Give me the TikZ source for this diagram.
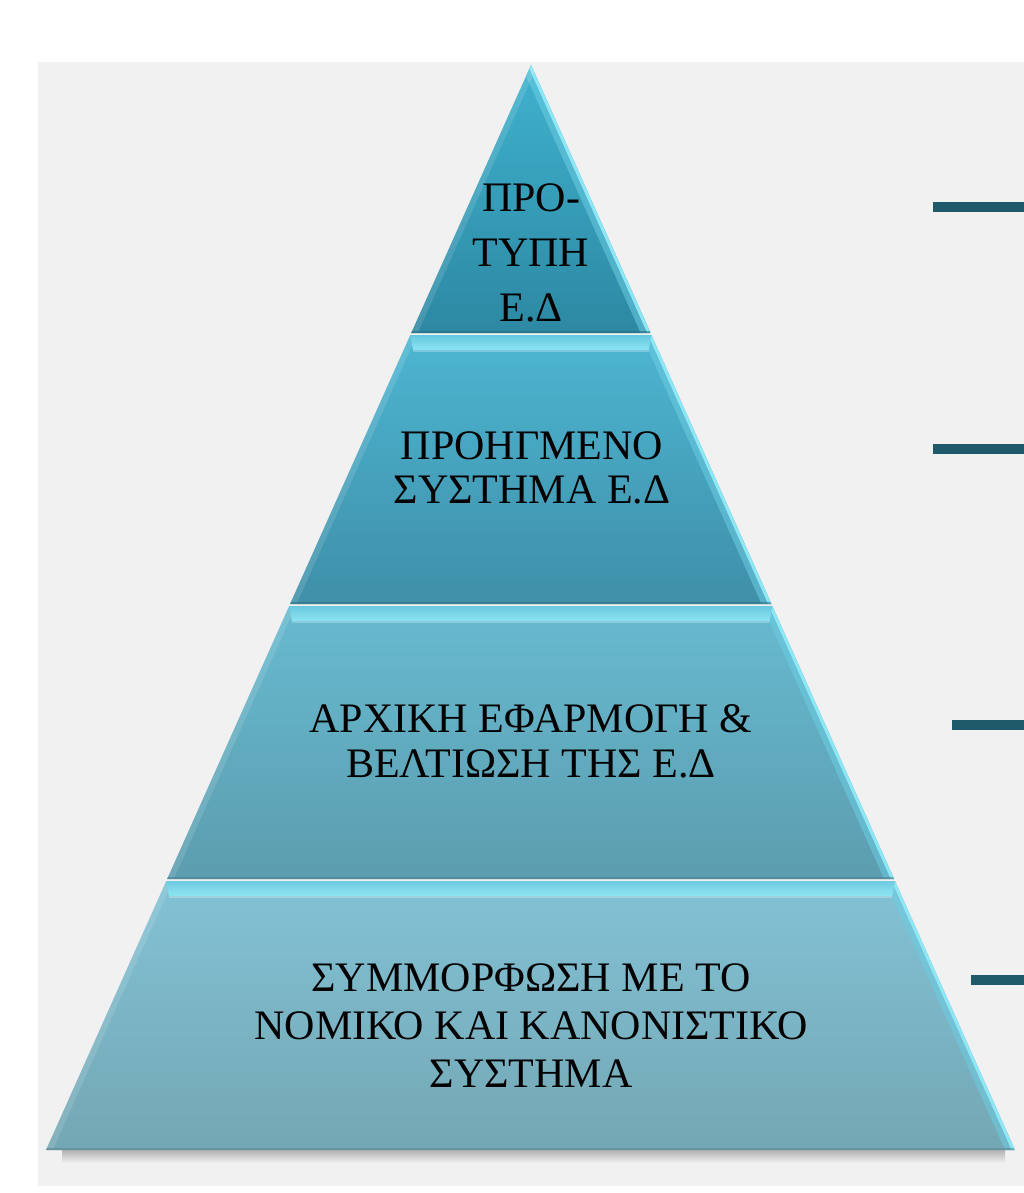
\documentclass[tikz,border=0pt]{standalone}
\usepackage{fontspec}
\setmainfont{Liberation Serif}
\definecolor{bgg}{HTML}{F1F1F1}
\definecolor{tonetop}{HTML}{3FB2CE}
\definecolor{tonebot}{HTML}{2D88A3}
\definecolor{ttwotop}{HTML}{4DB6D2}
\definecolor{ttwobot}{HTML}{3F8FA8}
\definecolor{tthreetop}{HTML}{67BAD0}
\definecolor{tthreebot}{HTML}{5C9DAF}
\definecolor{tfourtop}{HTML}{82C2D5}
\definecolor{tfourbot}{HTML}{74A7B4}
\definecolor{bevbright}{HTML}{8FE6F4}
\definecolor{bevmid}{HTML}{6CCDE2}
\definecolor{markline}{HTML}{1F5A6A}
\newcommand\pyrtier[5]{%
  \pgfmathsetmacro\tlx{531-0.447*(#1-65)}%
  \pgfmathsetmacro\trx{531+0.446*(#1-65)}%
  \pgfmathsetmacro\blx{531-0.447*(#2-65)}%
  \pgfmathsetmacro\brx{531+0.446*(#2-65)}%
  \pgfmathsetmacro\ilx{531-0.447*(#1+16-65)+10}%
  \pgfmathsetmacro\irx{531+0.446*(#1+16-65)-10}%
  \begin{scope}
    \clip (\tlx,#1) -- (\trx,#1) -- (\brx,#2) -- (\blx,#2) -- cycle;
    \shade[top color=#3,bottom color=#4] (\tlx,#1) -- (\trx,#1) -- (\brx,#2) -- (\blx,#2) -- cycle;
    \draw[line width=18pt,bevmid,opacity=0.55] (\trx,#1) -- (\brx,#2);
    \draw[line width=6pt,bevbright] (\trx,#1) -- (\brx,#2);
    \draw[line width=12pt,white,opacity=0.12] (\tlx,#1) -- (\blx,#2);
    \draw[line width=4pt,#4!80!black,opacity=0.6] (\blx,#2) -- (\brx,#2);
    \ifnum#5=1
      \shade[top color=bevmid!80!#3,bottom color=bevbright]
        (\tlx,#1) -- (\trx,#1) -- (\irx,#1+16) -- (\ilx,#1+16) -- cycle;
      \draw[line width=1.5pt,#3!75!white] (\ilx,#1+16) -- (\irx,#1+16);
    \fi
  \end{scope}}
\begin{document}
\begin{tikzpicture}[x=1pt,y=-1pt,
  tiertext/.style={inner sep=0pt,outer sep=0pt,align=center,text=black},
  marker/.style={line width=10pt,markline}]
\useasboundingbox (0,0) rectangle (1024,1193);
\fill[white] (0,0) rectangle (1024,1193);
\fill[bgg] (38,62) rectangle (1024,1186);
% shadow under base
\shade[top color=black!30,bottom color=bgg] (62,1150) rectangle (1005,1163);
\pyrtier{65}{333}{tonetop}{tonebot}{0}
\pyrtier{335}{604}{ttwotop}{ttwobot}{1}
\pyrtier{606}{879}{tthreetop}{tthreebot}{1}
\pyrtier{881}{1150}{tfourtop}{tfourbot}{1}
\node[tiertext,font=\fontsize{42}{55}\selectfont] (tone) at (531,253) {ΠΡΟ-\\ΤΥΠΗ\\Ε.Δ};
\node[tiertext,font=\fontsize{42}{44}\selectfont] (ttwo) at (532,468) {ΠΡΟΗΓΜΕΝΟ\\ΣΥΣΤΗΜΑ Ε.Δ};
\node[tiertext,font=\fontsize{42}{45}\selectfont] (tthree) at (531,741) {ΑΡΧΙΚΗ ΕΦΑΡΜΟΓΗ \&\\ΒΕΛΤΙΩΣΗ ΤΗΣ Ε.Δ};
\node[tiertext,font=\fontsize{42}{48}\selectfont] (tfour) at (531,1026) {ΣΥΜΜΟΡΦΩΣΗ ΜΕ ΤΟ\\ΝΟΜΙΚΟ ΚΑΙ ΚΑΝΟΝΙΣΤΙΚΟ\\ΣΥΣΤΗΜΑ};
\coordinate (mas) at (933,207); \coordinate (mae) at (1024,207);
\coordinate (mbs) at (933,449); \coordinate (mbe) at (1024,449);
\coordinate (mcs) at (952,725); \coordinate (mce) at (1024,725);
\coordinate (mds) at (971,980); \coordinate (mde) at (1024,980);
\draw[marker] (mas) -- (mae);
\draw[marker] (mbs) -- (mbe);
\draw[marker] (mcs) -- (mce);
\draw[marker] (mds) -- (mde);
\end{tikzpicture}
\end{document}
